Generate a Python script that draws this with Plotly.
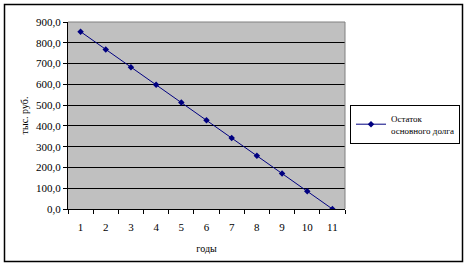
import plotly.graph_objects as go

years = ["1", "2", "3", "4", "5", "6", "7", "8", "9", "10", "11"]
balance = [853.5, 768.2, 682.8, 597.5, 512.1, 426.8, 341.4, 256.1, 170.7, 85.4, 0.0]
y_ticks = [0, 100, 200, 300, 400, 500, 600, 700, 800, 900]

FONT = "Liberation Serif, Times New Roman, serif"

fig = go.Figure()
fig.add_trace(go.Scatter(
    x=years, y=balance, mode="lines+markers",
    name="Остаток<br>основного долга",
    line=dict(color="#000080", width=1),
    marker=dict(symbol="diamond", size=5, color="#000080"),
))

L, R, T, B = 68, 122, 22, 57
W, H = 467, 266
pw, ph = W - L - R, H - T - B

def px(x):
    return (x - L) / pw

def py(y):
    return (H - B - y) / ph

fig.update_layout(
    width=W, height=H,
    margin=dict(l=L, r=R, t=T, b=B, autoexpand=False),
    paper_bgcolor="white",
    plot_bgcolor="#C0C0C0",
    separators=", ",
    font=dict(family=FONT, size=11, color="black"),
    showlegend=True,
    legend=dict(
        x=px(350), y=py(105), xanchor="left", yanchor="top",
        bgcolor="white", bordercolor="black", borderwidth=1,
        font=dict(family=FONT, size=9, color="black"),
        itemwidth=30, tracegroupgap=0,
    ),
    xaxis=dict(
        type="category",
        range=[-0.5, 10.5],
        showgrid=False,
        showline=True, linecolor="black", linewidth=1,
        ticks="outside", ticklen=4, tickcolor="black",
        tickson="boundaries",
        ticklabelstandoff=8,
        title=dict(text="годы", font=dict(family=FONT, size=10), standoff=12),
        tickfont=dict(family=FONT, size=11),
        automargin=False,
    ),
    yaxis=dict(
        range=[0, 900],
        tickvals=y_ticks,
        tickformat=".1f",
        showgrid=True, gridcolor="black", gridwidth=1,
        showline=True, linecolor="black", linewidth=1,
        ticks="outside", ticklen=4, tickcolor="black",
        zeroline=False,
        title=dict(text="тыс. руб.", font=dict(family=FONT, size=10), standoff=5),
        tickfont=dict(family=FONT, size=11),
        automargin=False,
    ),
    shapes=[
        dict(type="rect", xref="paper", yref="paper",
             x0=px(4.5), x1=px(462.5), y0=py(4.5), y1=py(261.5),
             line=dict(color="black", width=1.5), layer="below"),
        dict(type="line", xref="paper", yref="paper",
             x0=1, x1=1, y0=0, y1=1,
             line=dict(color="#808080", width=1)),
        dict(type="line", xref="paper", yref="paper",
             x0=0, x1=1, y0=1, y1=1,
             line=dict(color="#808080", width=1)),
    ],
)

fig.write_html("out.html")
